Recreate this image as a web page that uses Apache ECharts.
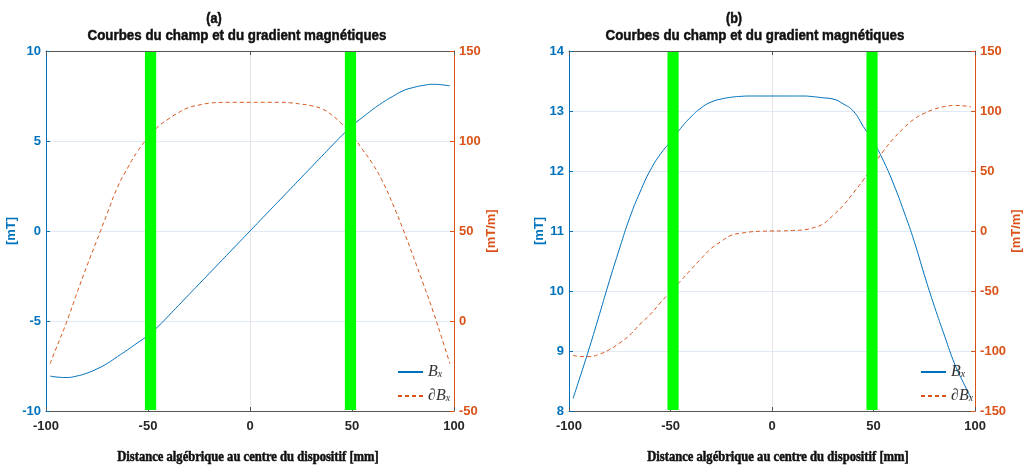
<!DOCTYPE html>
<html>
<head>
<meta charset="utf-8">
<script src="https://cdn.jsdelivr.net/npm/echarts@6/dist/echarts.min.js"></script>
<style>
  html, body { margin: 0; padding: 0; background: #fff; }
  #main { width: 1024px; height: 469px; }
</style>
</head>
<body>
<div id="main"></div>
<script>
// position along the device [mm]
const xs = [-98, -95, -90, -85, -80, -75, -70, -65, -60, -55, -50, -45, -40, -35, -30, -25, -20, -15, -10, -5,
  0, 5, 10, 15, 20, 25, 30, 35, 40, 45, 50, 55, 60, 65, 70, 75, 80, 85, 90, 95, 98]

// (a) field [mT] and gradient [mT/m]
const bxA = [-8.06, -8.11, -8.14, -8.06, -7.9, -7.66, -7.36, -6.98, -6.6, -6.2, -5.8, -5.3, -4.72, -4.13, -3.54, -2.95, -2.36, -1.77, -1.18, -0.59,
  0, 0.59, 1.18, 1.77, 2.36, 2.95, 3.54, 4.13, 4.72, 5.3, 5.85, 6.3, 6.74, 7.14, 7.48, 7.79, 7.97, 8.09, 8.15, 8.11, 8.06]
const dbxA = [-23.7, -15.1, -0.9, 15, 30.4, 45, 59.7, 74.2, 85, 94.5, 101.8, 108, 112.2, 115.8, 118.6, 120, 121, 121.4, 121.5, 121.5,
  121.5, 121.5, 121.5, 121.5, 121.2, 120.5, 119.6, 118, 114.5, 109.5, 103.3, 95.5, 87.5, 77.5, 65, 51, 36, 20.5, 4.5, -13, -23.7]

// (b) field [mT] and gradient [mT/m]
const bxB = [8.21, 8.52, 9.05, 9.61, 10.18, 10.72, 11.23, 11.65, 12.01, 12.28, 12.49, 12.71, 12.9, 13.05, 13.15, 13.2, 13.23, 13.245, 13.25, 13.25,
  13.25, 13.25, 13.25, 13.25, 13.24, 13.22, 13.2, 13.12, 13.0, 12.74, 12.48, 12.16, 11.77, 11.32, 10.83, 10.27, 9.74, 9.25, 8.78, 8.42, 8.22]
const dbxB = [-103.6, -104.5, -104.7, -102.6, -98.8, -93.3, -86.6, -77.6, -69.6, -59.8, -50.5, -41.6, -32.2, -23.1, -14.6, -8.6, -3.5, -1.8, -0.6, -0.2,
  0, 0.1, 0.4, 0.9, 2.5, 5.8, 12.9, 21.3, 31.6, 42.6, 55, 67, 77.3, 86, 93.3, 98.1, 101.5, 103.7, 104.6, 104.2, 103.4]

// green bands (coil positions) [mm]
const greenBands = [[-51.5, -46], [46.5, 52]]

const panelLabels = ['(a)', '(b)']
const titleText = 'Courbes du champ et du gradient magnétiques'
const xName = 'Distance algébrique au centre du dispositif [mm]'

const BLUE = '#0072BD'
const ORANGE = '#D95319'
const DARK = '#262626'
const SANS = '"Liberation Sans", Arial, sans-serif'
const SERIF = '"Liberation Serif", "DejaVu Serif", serif'

const pairs = (ys) => xs.map((x, i) => [x, ys[i]])

const chart = echarts.init(document.getElementById('main'))

function xAxes(grid) {
  const base = {
    gridIndex: grid,
    type: 'value',
    min: -100,
    max: 100,
    interval: 50,
    axisLine: { onZero: false, lineStyle: { color: '#555', width: 1 } },
    axisTick: { inside: true, length: 4, lineStyle: { color: '#555' } }
  }
  return [
    {
      ...base,
      position: 'bottom',
      axisLabel: { color: DARK, fontFamily: SANS, fontWeight: 'bold', fontSize: 13, margin: 9 },
      splitLine: { show: true, lineStyle: { color: '#e4e4e4', width: 1 } }
    },
    {
      ...base,
      position: 'top',
      axisLabel: { show: false },
      splitLine: { show: false }
    }
  ]
}

function yAxis(grid, pos, min, max, interval, color, name, gap, split) {
  return {
    gridIndex: grid,
    type: 'value',
    position: pos,
    min: min,
    max: max,
    interval: interval,
    name: name,
    nameLocation: 'middle',
    nameRotate: 90,
    nameGap: gap,
    nameTextStyle: { color: color, fontFamily: SANS, fontWeight: 'bold', fontSize: 13 },
    axisLine: { show: true, onZero: false, lineStyle: { color: color, width: 1 } },
    axisTick: { show: true, inside: true, length: 4, lineStyle: { color: color } },
    axisLabel: { color: color, fontFamily: SANS, fontWeight: 'bold', fontSize: 13, margin: 5 },
    splitLine: { show: split, lineStyle: { color: '#e1eaf4', width: 1 } }
  }
}

function lineSeries(name, xi, yi, ys, color, dashed) {
  return {
    name: name,
    type: 'line',
    xAxisIndex: xi,
    yAxisIndex: yi,
    data: pairs(ys),
    smooth: true,
    symbol: 'none',
    lineStyle: { color: color, width: 1, type: dashed ? [4, 3] : 'solid' },
    itemStyle: { color: color },
    z: 2
  }
}

function bandSeries(xi, yi) {
  return {
    type: 'custom',
    xAxisIndex: xi,
    yAxisIndex: yi,
    silent: true,
    z: 5,
    encode: { x: [0, 1] },
    data: greenBands,
    renderItem(params, api) {
      const cs = params.coordSys
      const a = api.coord([api.value(0), 0])
      const b = api.coord([api.value(1), 0])
      return {
        type: 'rect',
        shape: { x: a[0], y: cs.y + 1, width: b[0] - a[0], height: cs.height - 2 },
        style: { fill: '#00ff00' }
      }
    }
  }
}

const legendRich = {
  i: { fontFamily: SERIF, fontStyle: 'italic', fontSize: 16, color: '#333' },
  d: { fontFamily: SERIF, fontStyle: 'italic', fontSize: 16, color: '#333' },
  s: { fontFamily: SERIF, fontStyle: 'italic', fontSize: 10, color: '#333', padding: [5, 0, 0, 0] }
}

function legend(left) {
  return {
    data: ['Bx', '∂Bx'],
    orient: 'vertical',
    left: left,
    top: 364,
    padding: 0,
    itemWidth: 25,
    itemHeight: 14,
    itemGap: 8,
    selectedMode: false,
    itemStyle: { opacity: 0 },
    formatter: (n) => (n === 'Bx' ? '{i|B}{s|x}' : '{d|∂}{i|B}{s|x}'),
    textStyle: { rich: legendRich }
  }
}

function text(x, y, str, font, scaleX) {
  return {
    type: 'text', x: x, y: y, scaleX: scaleX, originX: 0,
    style: {
      text: str, align: 'center', verticalAlign: 'middle', font: font,
      fill: '#111', stroke: '#111', lineWidth: 0.5
    }
  }
}

chart.setOption({
  backgroundColor: '#fff',
  animation: false,
  grid: [
    { left: 46, top: 51, width: 408, height: 360 },
    { left: 569, top: 51, width: 408, height: 360 }
  ],
  xAxis: [...xAxes(0), ...xAxes(1)],
  yAxis: [
    yAxis(0, 'left', -10, 10, 5, BLUE, '[mT]', 21, true),
    yAxis(0, 'right', -50, 150, 50, ORANGE, '[mT/m]', 29, false),
    yAxis(1, 'left', 8, 14, 1, BLUE, '[mT]', 22, true),
    yAxis(1, 'right', -150, 150, 50, ORANGE, '[mT/m]', 26, false)
  ],
  legend: [legend(397), legend(920)],
  graphic: [
    text(214, 19, panelLabels[0], 'bold 14px ' + SANS, 0.9),
    text(237, 36, titleText, 'bold 15px ' + SANS, 0.89),
    text(248, 457, xName, 'bold 14px ' + SERIF, 0.9),
    text(734, 19, panelLabels[1], 'bold 14px ' + SANS, 0.9),
    text(755, 36, titleText, 'bold 15px ' + SANS, 0.89),
    text(778, 457, xName, 'bold 14px ' + SERIF, 0.9)
  ],
  series: [
    lineSeries('Bx', 0, 0, bxA, BLUE, false),
    lineSeries('∂Bx', 0, 1, dbxA, ORANGE, true),
    bandSeries(0, 0),
    lineSeries('Bx', 2, 2, bxB, BLUE, false),
    lineSeries('∂Bx', 2, 3, dbxB, ORANGE, true),
    bandSeries(2, 2)
  ]
})
</script>
</body>
</html>
